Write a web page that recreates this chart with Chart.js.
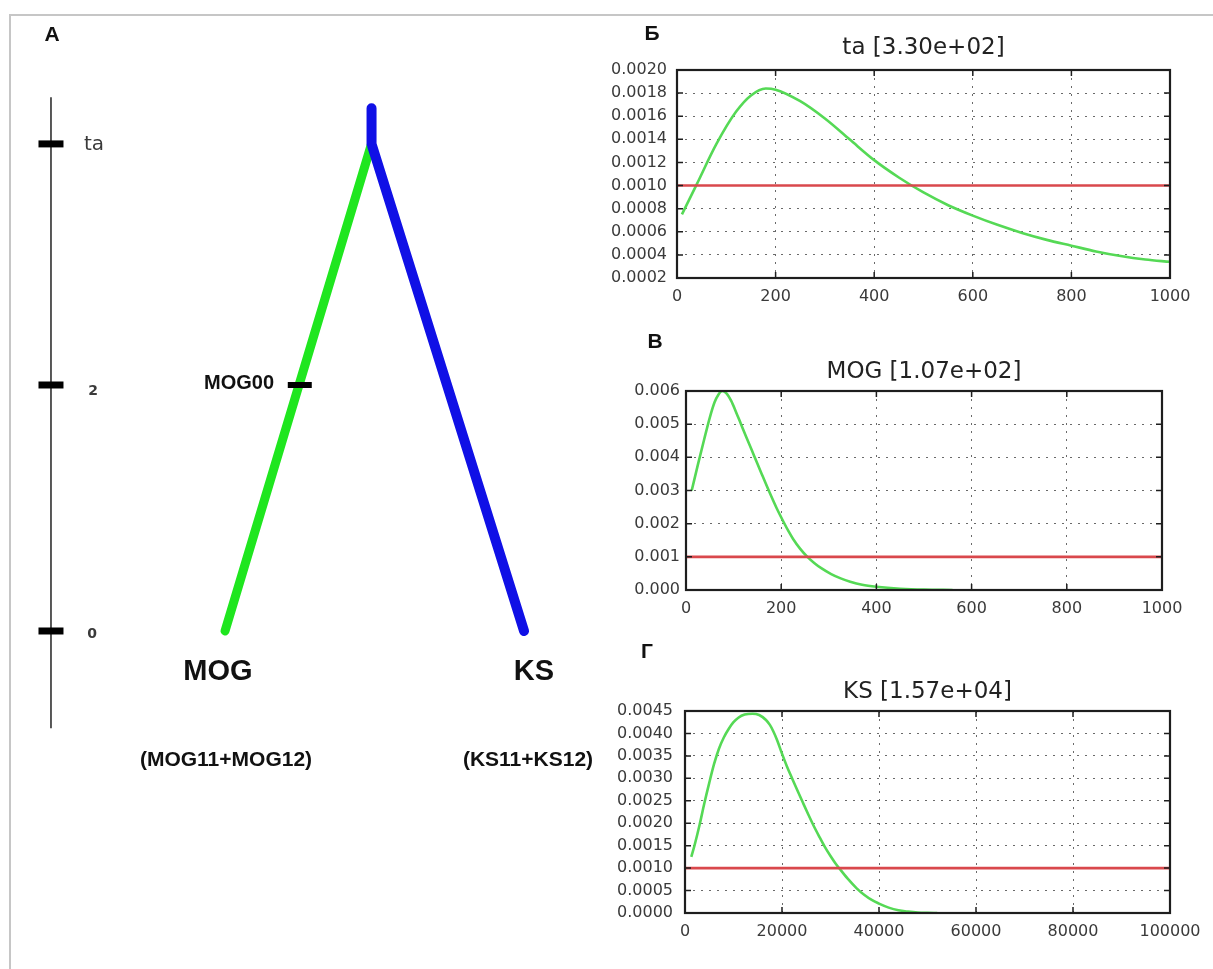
<!DOCTYPE html>
<html>
<head>
<meta charset="utf-8">
<script src="https://cdn.jsdelivr.net/npm/chart.js@4.4.1/dist/chart.umd.min.js"></script>
<style>
  html, body { margin: 0; padding: 0; background: #fff; }
  body { width: 1213px; height: 969px; position: relative; overflow: hidden; }
  .frame { position: absolute; left: 9px; top: 14px; right: -4px; bottom: -4px; border-top: 2px solid #c6c6c6; border-left: 2px solid #c6c6c6; }
  canvas { position: absolute; }
  .lbl { position: absolute; transform: translate(-50%, -50%); white-space: nowrap; line-height: 1;
         font-family: 'Liberation Sans', Arial, sans-serif; font-weight: bold; color: #111; }
  .tick { font-family: 'DejaVu Sans', sans-serif; color: #3a3a3a; }
</style>
</head>
<body>
<div class="frame"></div>
<canvas id="tree"></canvas>
<canvas id="chartTa"></canvas>
<canvas id="chartMog"></canvas>
<canvas id="chartKs"></canvas>

<!-- панель А -->
<div class="lbl" style="left:52px;top:33px;font-size:21px">A</div>
<div class="lbl tick" style="left:94px;top:143px;font-size:20px;font-weight:normal">ta</div>
<div class="lbl tick" style="left:93px;top:390px;font-size:14px">2</div>
<div class="lbl tick" style="left:92px;top:633px;font-size:14px">0</div>
<div class="lbl" style="left:239px;top:382px;font-size:20px">MOG00</div>
<div class="lbl" style="left:218px;top:670px;font-size:29px">MOG</div>
<div class="lbl" style="left:534px;top:670px;font-size:29px">KS</div>
<div class="lbl" style="left:226px;top:758px;font-size:21px">(MOG11+MOG12)</div>
<div class="lbl" style="left:528px;top:758px;font-size:21px">(KS11+KS12)</div>
<!-- панели Б, В, Г -->
<div class="lbl" style="left:652px;top:32px;font-size:21px">Б</div>
<div class="lbl" style="left:655px;top:340px;font-size:21px">В</div>
<div class="lbl" style="left:647px;top:650px;font-size:21px">Г</div>

<script>
// --- данные: апостериорные распределения ---
const taX = [10, 40, 80, 120, 150, 180, 200, 250, 300, 350, 400, 450, 500, 550, 600, 650, 700, 750, 800, 850, 900, 950, 1000];
const taY = [0.00075, 0.00101, 0.00136, 0.00164, 0.00178, 0.00184, 0.00183, 0.00173, 0.00158, 0.00140, 0.00122, 0.00107,
             0.00094, 0.00083, 0.00074, 0.00066, 0.00059, 0.00053, 0.00048, 0.00043, 0.00039, 0.00036, 0.00034];

const mogX = [12, 25, 38, 50, 60, 68, 76, 85, 95, 105, 115, 127, 143, 159, 175, 190, 205, 215, 225, 240, 255, 270,
              285, 305, 325, 345, 370, 400, 450, 500, 560];
const mogY = [0.0030, 0.00378, 0.00453, 0.00520, 0.00566, 0.00589, 0.00600, 0.00593, 0.00570, 0.00537, 0.00502, 0.00460,
              0.00405, 0.00350, 0.00296, 0.00248, 0.00205, 0.00178, 0.00154, 0.00124, 0.00100, 0.00081, 0.00065, 0.00048,
              0.00035, 0.00025, 0.00016, 0.00010, 0.00004, 0.00001, 0];

const ksX = [1300, 2000, 3000, 4000, 5000, 6000, 7000, 8000, 9000, 10000, 11000, 12300, 13900, 15300, 16700, 17500, 18200,
             19000, 20000, 21000, 22200, 23300, 24300, 25400, 26500, 27600, 28800, 30000, 31000, 32000, 33500, 35400,
             37000, 38500, 40000, 42000, 44000, 46000, 48000, 50000, 52000];
const ksY = [0.00125, 0.00152, 0.00196, 0.00245, 0.00290, 0.00332, 0.00366, 0.00391, 0.00410, 0.00425, 0.00435, 0.00442,
             0.00444, 0.00441, 0.00430, 0.00419, 0.00405, 0.00385, 0.00355, 0.00327, 0.00297, 0.00270, 0.00246, 0.00220,
             0.00195, 0.00172, 0.00148, 0.00127, 0.00111, 0.00097, 0.00077, 0.00055, 0.00040, 0.00029, 0.00021, 0.00012,
             0.00006, 0.00003, 0.00001, 0.000003, 0];

// априорный уровень (красная линия)
const priorLevel = 0.001;

// подписи делений
const taXTicks = [0, 200, 400, 600, 800, 1000];
const taYTicks = [0.0002, 0.0004, 0.0006, 0.0008, 0.0010, 0.0012, 0.0014, 0.0016, 0.0018, 0.0020];
const mogXTicks = [0, 200, 400, 600, 800, 1000];
const mogYTicks = [0, 0.001, 0.002, 0.003, 0.004, 0.005, 0.006];
const ksXTicks = [0, 20000, 40000, 60000, 80000, 100000];
const ksYTicks = [0, 0.0005, 0.0010, 0.0015, 0.0020, 0.0025, 0.0030, 0.0035, 0.0040, 0.0045];

// --- дерево (панель А): время в единицах оси, 0 / 2 / ta ---
const timeTicks = [0, 2, 3.96];
const timeAxisSpan = [-0.79, 4.34];
const leafMOG = -1, leafKS = 1;
const rootX = -0.02, rootT = 3.96, stemTop = 4.25;
const eventMOG00 = { x: -0.5, t: 2 };

const GREEN = '#55d955';
const RED = '#d9484c';
const FONT = "'DejaVu Sans', 'Liberation Sans', sans-serif";

// рамка и внутренние штрихи как в matplotlib classic
const frameTicks = {
  id: 'frameTicks',
  afterDatasetsDraw(chart) {
    const { ctx, chartArea: a, scales: { x, y } } = chart;
    ctx.save();
    ctx.strokeStyle = '#1e1e1e';
    ctx.lineWidth = 1.5;
    ctx.beginPath();
    x.ticks.forEach(t => {
      const px = x.getPixelForValue(t.value);
      ctx.moveTo(px, a.bottom); ctx.lineTo(px, a.bottom - 6);
      ctx.moveTo(px, a.top); ctx.lineTo(px, a.top + 6);
    });
    y.ticks.forEach(t => {
      const py = y.getPixelForValue(t.value);
      ctx.moveTo(a.left, py); ctx.lineTo(a.left + 6, py);
      ctx.moveTo(a.right, py); ctx.lineTo(a.right - 6, py);
    });
    ctx.stroke();
    ctx.lineWidth = 2.2;
    ctx.strokeRect(a.left, a.top, a.right - a.left, a.bottom - a.top);
    ctx.restore();
  }
};

function makePanel(id, box, plot, title, xs, ys, xTicks, yTicks, yDigits, yPad) {
  const canvas = document.getElementById(id);
  canvas.width = box.w; canvas.height = box.h;
  canvas.style.left = box.x + 'px';
  canvas.style.top = box.y + 'px';

  const titleSize = 23, lh = titleSize * 1.2;
  const padTop = title.y - box.y - lh / 2;
  const padBottom = (plot.top - box.y) - padTop - lh;

  const curve = xs.map((x, i) => ({ x, y: ys[i] }));
  const prior = [{ x: xTicks[0], y: priorLevel }, { x: xTicks[xTicks.length - 1], y: priorLevel }];

  const gridOpts = { color: '#6a6a6a', lineWidth: 1, drawTicks: false };
  const borderOpts = { display: false, dash: [2, 6] };

  return new Chart(canvas, {
    type: 'scatter',
    data: {
      datasets: [
        { data: curve, showLine: true, borderColor: GREEN, borderWidth: 2.6, pointRadius: 0,
          cubicInterpolationMode: 'monotone', order: 2 },
        { data: prior, showLine: true, borderColor: RED, borderWidth: 2.6, pointRadius: 0, order: 1 }
      ]
    },
    options: {
      responsive: false,
      animation: false,
      events: [],
      layout: { autoPadding: false, padding: { left: 0, top: 0, bottom: 0, right: box.x + box.w - plot.right } },
      plugins: {
        legend: { display: false },
        tooltip: { enabled: false },
        title: {
          display: true, text: title.text, fullSize: false, color: '#222',
          font: { family: FONT, size: titleSize, weight: 'normal' },
          padding: { top: padTop, bottom: padBottom }
        }
      },
      scales: {
        x: {
          type: 'linear', min: xTicks[0], max: xTicks[xTicks.length - 1],
          grid: gridOpts, border: borderOpts,
          afterBuildTicks: s => { s.ticks = xTicks.map(v => ({ value: v })); },
          afterFit: s => { s.height = box.y + box.h - plot.bottom; },
          ticks: { color: '#3a3a3a', font: { family: FONT, size: 16 }, padding: 9, maxRotation: 0,
                   autoSkip: false, callback: v => String(v) }
        },
        y: {
          type: 'linear', min: yTicks[0], max: yTicks[yTicks.length - 1],
          grid: gridOpts, border: borderOpts,
          afterBuildTicks: s => { s.ticks = yTicks.map(v => ({ value: v })); },
          afterFit: s => { s.width = plot.left - box.x; },
          ticks: { color: '#3a3a3a', font: { family: FONT, size: 16 }, padding: yPad,
                   autoSkip: false, callback: v => v.toFixed(yDigits) }
        }
      }
    },
    plugins: [frameTicks]
  });
}

makePanel('chartTa', { x: 600, y: 20, w: 613, h: 300 }, { left: 677, top: 70, right: 1170, bottom: 278 },
  { text: 'ta [3.30e+02]', y: 48 }, taX, taY, taXTicks, taYTicks, 4, 10);

makePanel('chartMog', { x: 600, y: 330, w: 613, h: 300 }, { left: 686, top: 391, right: 1162, bottom: 590 },
  { text: 'MOG [1.07e+02]', y: 372 }, mogX, mogY, mogXTicks, mogYTicks, 3, 6);

makePanel('chartKs', { x: 600, y: 650, w: 613, h: 305 }, { left: 685, top: 711, right: 1170, bottom: 913 },
  { text: 'KS [1.57e+04]', y: 692 }, ksX, ksY, ksXTicks, ksYTicks, 4, 12);

// --- панель А: дерево на скрытых линейных шкалах ---
(function drawTree() {
  const canvas = document.getElementById('tree');
  canvas.width = 600; canvas.height = 969;
  canvas.style.left = '0px'; canvas.style.top = '0px';

  const axisX = -2.164;
  new Chart(canvas, {
    type: 'scatter',
    data: {
      datasets: [
        { data: timeAxisSpan.map(t => ({ x: axisX, y: t })), showLine: true, borderColor: '#222',
          borderWidth: 1.5, pointRadius: 0, order: 5 },
        { data: timeTicks.map(t => ({ x: axisX, y: t })), pointStyle: 'line', pointRadius: 12.5,
          pointBorderWidth: 7, pointBorderColor: '#000', order: 4 },
        { data: [{ x: leafMOG, y: 0 }, { x: rootX, y: rootT }], showLine: true, borderColor: '#1fe61f',
          borderWidth: 9, borderCapStyle: 'round', pointRadius: 0, order: 3 },
        { data: [{ x: rootX, y: stemTop }, { x: rootX, y: rootT }, { x: leafKS, y: 0 }], showLine: true,
          borderColor: '#1010e6', borderWidth: 10, borderCapStyle: 'round', borderJoinStyle: 'round',
          pointRadius: 0, order: 2 },
        { data: [{ x: eventMOG00.x, y: eventMOG00.t }], pointStyle: 'line', pointRadius: 12,
          pointBorderWidth: 6, pointBorderColor: '#000', order: 1 }
      ]
    },
    options: {
      responsive: false,
      animation: false,
      events: [],
      layout: { autoPadding: false, padding: 0 },
      plugins: { legend: { display: false }, tooltip: { enabled: false } },
      scales: {
        x: { type: 'linear', display: false, min: -2.505, max: 1.508 },
        y: { type: 'linear', display: false, min: -2.748, max: 5.13 }
      }
    }
  });
})();
</script>
</body>
</html>
